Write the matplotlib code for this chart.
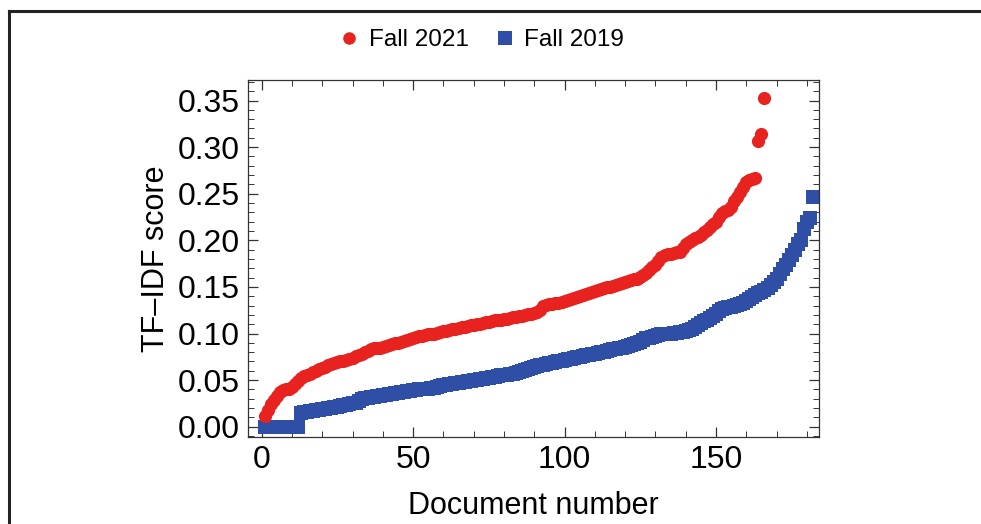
import matplotlib
matplotlib.use("Agg")
import matplotlib.pyplot as plt
from matplotlib.lines import Line2D
from matplotlib.ticker import MultipleLocator, FormatStrFormatter

plt.rcParams['font.family'] = ['Liberation Sans', 'DejaVu Sans']

# TF-IDF scores, sorted
fall_2021 = [
    0.012, 0.018, 0.024, 0.029, 0.033, 0.037, 0.039, 0.040, 0.041, 0.043,
    0.046, 0.049, 0.052, 0.054, 0.056, 0.057, 0.059, 0.060, 0.062, 0.063,
    0.064, 0.066, 0.067, 0.068, 0.069, 0.070, 0.071, 0.072, 0.073, 0.074,
    0.076, 0.077, 0.078, 0.080, 0.081, 0.083, 0.084, 0.085, 0.085, 0.086,
    0.087, 0.088, 0.089, 0.090, 0.090, 0.091, 0.092, 0.093, 0.094, 0.095,
    0.096, 0.097, 0.097, 0.098, 0.099, 0.100, 0.100, 0.101, 0.102, 0.103,
    0.103, 0.104, 0.105, 0.105, 0.106, 0.107, 0.107, 0.108, 0.109, 0.109,
    0.110, 0.110, 0.111, 0.112, 0.112, 0.113, 0.114, 0.114, 0.115, 0.116,
    0.116, 0.117, 0.118, 0.118, 0.119, 0.119, 0.120, 0.121, 0.121, 0.122,
    0.123, 0.125, 0.130, 0.131, 0.132, 0.132, 0.133, 0.133, 0.134, 0.135,
    0.136, 0.137, 0.138, 0.139, 0.140, 0.141, 0.142, 0.143, 0.145, 0.146,
    0.147, 0.148, 0.149, 0.150, 0.150, 0.151, 0.152, 0.153, 0.154, 0.155,
    0.156, 0.157, 0.158, 0.159, 0.161, 0.163, 0.165, 0.168, 0.171, 0.174,
    0.178, 0.182, 0.184, 0.185, 0.185, 0.186, 0.187, 0.188, 0.192, 0.196,
    0.198, 0.200, 0.202, 0.204, 0.206, 0.209, 0.211, 0.214, 0.217, 0.220,
    0.225, 0.229, 0.231, 0.233, 0.236, 0.242, 0.247, 0.252, 0.257, 0.263,
    0.265, 0.266, 0.267, 0.307, 0.314, 0.353,
]

fall_2019 = [
    0.0, 0.0, 0.0, 0.0, 0.0, 0.0, 0.0, 0.0, 0.0, 0.0,
    0.0, 0.0, 0.015, 0.016, 0.016, 0.017, 0.017, 0.018, 0.018, 0.019,
    0.019, 0.020, 0.020, 0.021, 0.021, 0.022, 0.023, 0.023, 0.024, 0.025,
    0.026, 0.028, 0.030, 0.031, 0.031, 0.032, 0.032, 0.033, 0.033, 0.034,
    0.034, 0.035, 0.035, 0.036, 0.036, 0.037, 0.037, 0.038, 0.038, 0.039,
    0.039, 0.040, 0.040, 0.041, 0.041, 0.042, 0.042, 0.043, 0.044, 0.045,
    0.045, 0.046, 0.046, 0.047, 0.047, 0.048, 0.048, 0.049, 0.049, 0.050,
    0.050, 0.051, 0.051, 0.052, 0.052, 0.053, 0.053, 0.054, 0.055, 0.055,
    0.056, 0.057, 0.057, 0.058, 0.059, 0.060, 0.061, 0.062, 0.063, 0.064,
    0.065, 0.066, 0.066, 0.067, 0.068, 0.068, 0.069, 0.070, 0.071, 0.072,
    0.073, 0.073, 0.074, 0.075, 0.075, 0.076, 0.077, 0.077, 0.078, 0.078,
    0.079, 0.080, 0.080, 0.081, 0.082, 0.083, 0.083, 0.084, 0.085, 0.086,
    0.087, 0.088, 0.089, 0.090, 0.091, 0.093, 0.095, 0.095, 0.096, 0.097,
    0.098, 0.099, 0.099, 0.100, 0.100, 0.101, 0.101, 0.102, 0.102, 0.103,
    0.104, 0.105, 0.107, 0.109, 0.111, 0.113, 0.115, 0.117, 0.119, 0.121,
    0.124, 0.126, 0.127, 0.128, 0.129, 0.130, 0.131, 0.132, 0.133, 0.135,
    0.137, 0.139, 0.141, 0.143, 0.145, 0.147, 0.149, 0.152, 0.155, 0.159,
    0.164, 0.169, 0.174, 0.179, 0.184, 0.190, 0.196, 0.200, 0.212, 0.220,
    0.224, 0.247,
]

labels = ['Fall 2021', 'Fall 2019']
red = '#e8231f'
blue = '#2f4fa6'

W, H = 981, 524
fig = plt.figure(figsize=(W / 100, H / 100), dpi=100)
ax = fig.add_axes([248 / W, 1 - 437 / H, 571 / W, 357 / H])

x21 = list(range(1, len(fall_2021) + 1))
x19 = list(range(1, len(fall_2019) + 1))

ax.plot(x19, fall_2019, linestyle='none', marker='s', markersize=10,
        color=blue, markeredgewidth=0, label=labels[1])
ax.plot(x21, fall_2021, linestyle='none', marker='o', markersize=9.5,
        color=red, markeredgewidth=0, label=labels[0])

ax.set_xlim(-4.5, 184)
ax.set_ylim(-0.011, 0.372)

ax.xaxis.set_major_locator(MultipleLocator(50))
ax.xaxis.set_minor_locator(MultipleLocator(10))
ax.yaxis.set_major_locator(MultipleLocator(0.05))
ax.yaxis.set_minor_locator(MultipleLocator(0.01))
ax.yaxis.set_major_formatter(FormatStrFormatter('%.2f'))

ax.tick_params(which='both', direction='in', top=True, right=True,
               labelsize=23, color='#333333')
ax.tick_params(which='major', length=7, width=0.9, pad=6)
ax.tick_params(which='minor', length=4, width=0.7)
for sp in ax.spines.values():
    sp.set_linewidth(0.9)
    sp.set_color('#333333')

ax.set_xlabel('Document number', fontsize=22, labelpad=11)
ax.set_ylabel('TF\u2013IDF score', fontsize=22, labelpad=5)

# legend on top, no frame, Fall 2021 first
h, l = ax.get_legend_handles_labels()
fig.legend(h[::-1], l[::-1], loc='center', bbox_to_anchor=(0.49, 1 - 40 / H),
           ncol=2, frameon=False, fontsize=17.5, handletextpad=0.3,
           columnspacing=1.0, handlelength=1.0, markerscale=0.95)

# outer frame (only the left and top edges are inside the crop)
fig.add_artist(Line2D([8.5 / W, 8.5 / W], [0, 1 - 10.5 / H],
                      color='#222222', linewidth=2.2))
fig.add_artist(Line2D([8.5 / W, 1], [1 - 10.5 / H, 1 - 10.5 / H],
                      color='#222222', linewidth=2.2))

fig.savefig('out.png', dpi=100)
